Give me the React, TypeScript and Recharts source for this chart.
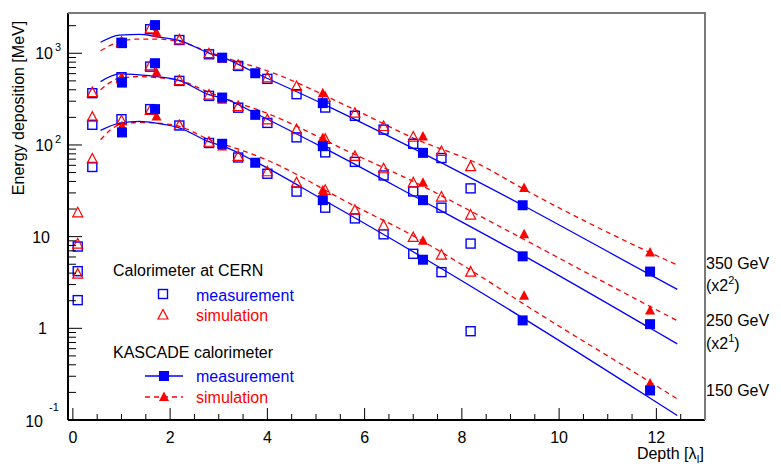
import React from 'react'
import { ComposedChart, Line, Scatter, XAxis, YAxis } from 'recharts'

const W = 781
const H = 467
const BLUE = '#0000ff'
const RED = '#ff0000'
const FONT = '"Liberation Sans", Arial, Helvetica, sans-serif'

// --- CERN test calorimeter (open markers) ---
const CERN_DEPTH = [0.1, 0.4, 1.0, 1.59, 2.19, 2.8, 3.4, 4.0, 4.6, 5.19, 5.8, 6.39, 7.0, 7.58, 8.18]
const CERN_MEAS_350 = [7.8, 367, 1300, 1830, 1395, 975, 728, 526, 358, 256, 208, 147, 103, 72, 33.6]
const CERN_SIM_350 = [18.2, 372, 1320, 1850, 1400, 990, 740, 540, 434, 330, 222, 159, 122, 85, 58]
const CERN_MEAS_250 = [4.2, 166, 548, 715, 500, 343, 255, 174, 121, 83, 65.4, 46.5, 31.1, 20.7, 8.4]
const CERN_SIM_250 = [8.3, 201, 530, 728, 505, 350, 262, 188, 147, 115, 75, 55, 38.7, 27, 17.2]
const CERN_MEAS_150 = [2.03, 57.5, 191, 246, 163, 105, 73, 48.5, 31, 20.7, 15.8, 10.6, 6.5, 4.1, 0.93]
const CERN_SIM_150 = [3.9, 70.4, 184, 238, 163, 107, 75, 51, 38.7, 32, 19.4, 13.2, 9.8, 6.3, 4.1]

// --- KASCADE calorimeter (filled markers) ---
const KAS_MEAS_DEPTH = [1.01, 1.69, 3.07, 3.75, 5.14, 7.2, 9.25, 11.87]
const KAS_MEAS_350 = [1290, 2030, 896, 606, 286, 82, 22, 4.16]
const KAS_MEAS_250 = [479, 779, 329, 213, 97, 25, 6.1, 1.11]
const KAS_MEAS_150 = [137, 246, 103, 64, 25, 5.6, 1.22, 0.21]

const KAS_SIM_DEPTH = [1.01, 1.72, 3.07, 5.14, 7.2, 9.28, 11.87]
const KAS_SIM_350 = [1330, 1675, 870, 367, 124, 34, 6.7]
const KAS_SIM_250 = [530, 616, 312, 119, 38.7, 10.6, 1.56]
const KAS_SIM_150 = [160, 205, 96, 32, 9.0, 2.26, 0.25]

// fitted curves
const FIT_MEAS_DEPTH = [0.57, 0.96, 1.37, 1.72, 2.2, 2.81, 3.09, 3.77, 5.14, 7.18, 9.25, 11.85, 12.43]
const FIT_MEAS_350 = [1318, 1580, 1605, 1515, 1371, 1000, 896, 606, 281, 82, 22, 3.9, 2.66]
const FIT_MEAS_250 = [491, 596, 581, 557, 504, 352, 324, 219, 94, 24.8, 6.28, 1.02, 0.676]
const FIT_MEAS_150 = [144, 173, 181, 173, 153, 108, 97, 65, 25.4, 6.0, 1.3, 0.176, 0.112]

const FIT_SIM_DEPTH = [0.57, 0.96, 1.37, 1.72, 2.2, 2.81, 3.43, 3.84, 5.8, 7.0, 8.37, 9.3, 11.87, 12.43]
const FIT_SIM_350 = [1067, 1337, 1430, 1430, 1337, 1025, 798, 687, 242, 119, 61, 32.4, 6.7, 4.9]
const FIT_SIM_250 = [399, 535, 557, 543, 504, 373, 282, 238, 78.5, 40, 16.8, 9.2, 1.73, 1.21]
const FIT_SIM_150 = [114, 166, 176, 173, 159, 114, 89, 74, 21.5, 10.2, 3.73, 1.8, 0.26, 0.17]

const X_MAJOR = [0, 2, 4, 6, 8, 10, 12]
const X_TICKS = [0, 0.5, 1, 1.5, 2, 2.5, 3, 3.5, 4, 4.5, 5, 5.5, 6, 6.5, 7, 7.5, 8, 8.5, 9, 9.5, 10, 10.5, 11, 11.5, 12, 12.5]
const Y_MAJOR = [0.1, 1, 10, 100, 1000]
const Y_MINOR_STEPS = [2, 3, 4, 5, 6, 7, 8, 9]

const Y_TICKS = Y_MAJOR.flatMap((d) => [d, ...Y_MINOR_STEPS.map((k) => d * k)]).filter((v) => v <= 2700)

const zip = (xs: number[], ys: number[]) => xs.map((x, i) => ({ x, y: ys[i] }))

// plot frame (margins of the chart)
const LEFT = 68
const TOP = 13
const RIGHT = 705
const BOTTOM = 420

function OpenSquare(p: any) {
  return <rect x={p.cx - 4.5} y={p.cy - 4.5} width={9} height={9} fill="none" stroke={BLUE} strokeWidth={1.4} />
}
function OpenTriangle(p: any) {
  const { cx, cy } = p
  return (
    <polygon
      points={`${cx},${cy - 5.5} ${cx - 5},${cy + 4} ${cx + 5},${cy + 4}`}
      fill="none" stroke={RED} strokeWidth={1.2}
    />
  )
}
function FilledSquare(p: any) {
  return <rect x={p.cx - 5} y={p.cy - 5} width={10} height={10} fill={BLUE} />
}
function FilledTriangle(p: any) {
  const { cx, cy } = p
  return <polygon points={`${cx},${cy - 5.5} ${cx - 5},${cy + 4} ${cx + 5},${cy + 4}`} fill={RED} />
}

function YTick(props: any) {
  const { y, payload } = props
  const v = payload.value
  const major = Y_MAJOR.includes(v)
  let label: React.ReactNode = null
  if (v === 1000 || v === 100) {
    label = (
      <g>
        <text x={53} y={y + 6} textAnchor="end" fontSize={16}>10</text>
        <text x={55} y={y - 2} fontSize={11}>{v === 1000 ? '3' : '2'}</text>
      </g>
    )
  } else if (v === 10) {
    label = <text x={50} y={y + 6} textAnchor="end" fontSize={16}>10</text>
  } else if (v === 1) {
    label = <text x={47} y={y + 6} textAnchor="end" fontSize={16}>1</text>
  } else if (v === 0.1) {
    label = (
      <g>
        <text x={43} y={y + 7} textAnchor="end" fontSize={16}>10</text>
        <text x={49} y={y - 9} fontSize={11}>-1</text>
      </g>
    )
  }
  return (
    <g fontFamily={FONT} fill="#000">
      <line x1={LEFT} x2={LEFT + (major ? 14 : 8)} y1={y} y2={y} stroke="#000" strokeWidth={1} />
      {label}
    </g>
  )
}

function XTick(props: any) {
  const { x, payload } = props
  const v = payload.value
  const major = X_MAJOR.includes(v)
  return (
    <g fontFamily={FONT}>
      <line x1={x} x2={x} y1={BOTTOM} y2={BOTTOM - (major ? 12 : 6)} stroke="#000" strokeWidth={1} />
      {major && (
        <text x={x} y={BOTTOM + 23} textAnchor="middle" fontSize={16} fill="#000">{v}</text>
      )}
    </g>
  )
}

export default function App() {
  const groups = [
    { cm: CERN_MEAS_350, cs: CERN_SIM_350, km: KAS_MEAS_350, ks: KAS_SIM_350, fm: FIT_MEAS_350, fs: FIT_SIM_350 },
    { cm: CERN_MEAS_250, cs: CERN_SIM_250, km: KAS_MEAS_250, ks: KAS_SIM_250, fm: FIT_MEAS_250, fs: FIT_SIM_250 },
    { cm: CERN_MEAS_150, cs: CERN_SIM_150, km: KAS_MEAS_150, ks: KAS_SIM_150, fm: FIT_MEAS_150, fs: FIT_SIM_150 },
  ]

  return (
    <div style={{ position: 'relative', width: W, height: H, margin: '-8px 0 0 -8px', background: '#fdfde8', fontFamily: FONT }}>
      <div style={{ position: 'absolute', left: 0, top: 4, width: W, height: H - 4, background: '#fff', borderTopLeftRadius: 10, borderTopRightRadius: 10 }} />
      <div style={{ position: 'absolute', left: 0, top: 0 }}>
        <ComposedChart width={W} height={H} margin={{ top: TOP, right: W - RIGHT, bottom: 0, left: 0 }}>
          <XAxis
            dataKey="x" type="number" domain={[-0.1, 13]} ticks={X_TICKS} interval={0}
            height={H - BOTTOM} tick={<XTick />} tickLine={false}
            axisLine={{ stroke: '#000', strokeWidth: 2 }} allowDataOverflow
          />
          <YAxis
            dataKey="y" type="number" scale="log" domain={[0.1, 2750]} ticks={Y_TICKS} interval={0}
            width={LEFT} tick={<YTick />} tickLine={false}
            axisLine={{ stroke: '#000', strokeWidth: 2 }} allowDataOverflow
          />
          {groups.map((g, i) => (
            <Line key={'fs' + i} data={zip(FIT_SIM_DEPTH, g.fs)} dataKey="y" type="monotone" stroke={RED}
              strokeWidth={1.3} strokeDasharray="5 4" dot={false} activeDot={false} isAnimationActive={false} />
          ))}
          {groups.map((g, i) => (
            <Line key={'fm' + i} data={zip(FIT_MEAS_DEPTH, g.fm)} dataKey="y" type="monotone" stroke={BLUE}
              strokeWidth={1.3} dot={false} activeDot={false} isAnimationActive={false} />
          ))}
          {groups.map((g, i) => (
            <Scatter key={'cm' + i} data={zip(CERN_DEPTH, g.cm)} dataKey="y" shape={OpenSquare} isAnimationActive={false} />
          ))}
          {groups.map((g, i) => (
            <Scatter key={'cs' + i} data={zip(CERN_DEPTH, g.cs)} dataKey="y" shape={OpenTriangle} isAnimationActive={false} />
          ))}
          {groups.map((g, i) => (
            <Scatter key={'ks' + i} data={zip(KAS_SIM_DEPTH, g.ks)} dataKey="y" shape={FilledTriangle} isAnimationActive={false} />
          ))}
          {groups.map((g, i) => (
            <Scatter key={'km' + i} data={zip(KAS_MEAS_DEPTH, g.km)} dataKey="y" shape={FilledSquare} isAnimationActive={false} />
          ))}
        </ComposedChart>
      </div>
      <svg width={W} height={H} style={{ position: 'absolute', left: 0, top: 0, pointerEvents: 'none' }} fontFamily={FONT}>
        {/* frame top / right */}
        <polyline points={`${LEFT},${TOP} ${RIGHT},${TOP} ${RIGHT},${BOTTOM}`} fill="none" stroke="#7a7a7a" strokeWidth={2} />

        {/* axis titles */}
        <text transform="translate(24,108) rotate(-90)" textAnchor="middle" fontSize={16} fill="#000">
          Energy deposition [MeV]
        </text>
        <text x={704} y={459} textAnchor="end" fontSize={16} fill="#000">
          Depth [λ<tspan fontSize={11} dy={4}>I</tspan><tspan dy={-4}>]</tspan>
        </text>

        {/* energy labels */}
        <text x={706} y={269} fontSize={16} fill="#000">350 GeV</text>
        <text x={706} y={291} fontSize={16} fill="#000">
          (x2<tspan fontSize={11} dy={-7}>2</tspan><tspan dy={7}>)</tspan>
        </text>
        <text x={706} y={326} fontSize={16} fill="#000">250 GeV</text>
        <text x={706} y={349} fontSize={16} fill="#000">
          (x2<tspan fontSize={11} dy={-7}>1</tspan><tspan dy={7}>)</tspan>
        </text>
        <text x={706} y={396} fontSize={16} fill="#000">150 GeV</text>

        {/* legend */}
        <text x={113} y={276} fontSize={16} fill="#000">Calorimeter at CERN</text>
        <OpenSquare cx={163} cy={294} />
        <text x={196} y={301} fontSize={16} fill={BLUE}>measurement</text>
        <OpenTriangle cx={163} cy={315} />
        <text x={196} y={321} fontSize={16} fill={RED}>simulation</text>

        <text x={113} y={358} fontSize={16} fill="#000">KASCADE calorimeter</text>
        <line x1={145} x2={183} y1={376} y2={376} stroke={BLUE} strokeWidth={1.3} />
        <FilledSquare cx={164} cy={376} />
        <text x={196} y={382} fontSize={16} fill={BLUE}>measurement</text>
        <line x1={145} x2={183} y1={397} y2={397} stroke={RED} strokeWidth={1.3} strokeDasharray="5 4" />
        <FilledTriangle cx={164} cy={397} />
        <text x={196} y={403} fontSize={16} fill={RED}>simulation</text>
      </svg>
    </div>
  )
}
